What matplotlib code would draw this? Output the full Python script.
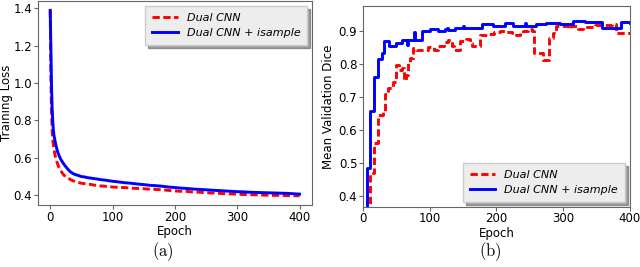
import numpy as np
import matplotlib
matplotlib.use("Agg")
import matplotlib.pyplot as plt

plt.rcParams['mathtext.fontset'] = 'cm'

# ---- (a) training loss ----
loss_epochs = [0, 1, 2, 3, 4, 5, 6, 8, 10, 12, 15, 18, 20, 22, 25, 28, 30, 33, 36, 40,
               45, 50, 55, 60, 65, 70, 75, 80, 85, 90, 95, 100, 110, 120, 130, 140,
               150, 160, 170, 180, 190, 200, 210, 220, 230, 240, 250, 260, 270, 280,
               290, 300, 310, 320, 330, 340, 350, 360, 370, 380, 390, 400]
loss_dual = [1.39, 1.05, 0.86, 0.76, 0.70, 0.67, 0.645, 0.61, 0.585, 0.565, 0.54, 0.525,
             0.515, 0.506, 0.499, 0.492, 0.488, 0.482, 0.477, 0.472,
             0.468, 0.463, 0.461, 0.458, 0.457, 0.453, 0.452, 0.449, 0.448, 0.446, 0.445,
             0.443, 0.441, 0.440, 0.437, 0.435, 0.434, 0.431, 0.430, 0.428, 0.425,
             0.422, 0.420, 0.419, 0.416, 0.415, 0.412, 0.411, 0.409, 0.407, 0.406,
             0.405, 0.403, 0.402, 0.401, 0.400, 0.399, 0.398, 0.399, 0.397, 0.396, 0.396]
loss_isample = [1.39, 1.20, 1.00, 0.87, 0.80, 0.75, 0.72, 0.685, 0.655, 0.63, 0.605, 0.585,
                0.575, 0.565, 0.552, 0.54, 0.532, 0.523, 0.516, 0.510,
                0.505, 0.499, 0.497, 0.493, 0.491, 0.488, 0.486, 0.483, 0.481, 0.479, 0.476,
                0.474, 0.470, 0.466, 0.463, 0.459, 0.456, 0.452, 0.450, 0.447, 0.443,
                0.440, 0.437, 0.435, 0.432, 0.430, 0.428, 0.426, 0.424, 0.422, 0.420,
                0.418, 0.417, 0.415, 0.414, 0.413, 0.412, 0.411, 0.410, 0.409, 0.407, 0.405]

# ---- (b) validation dice (change points, held until next) ----
dice_ep_isample = [0, 5.5, 10.5, 16, 22, 29, 32, 39, 49, 58, 66, 67, 76, 78, 89, 101, 113,
                   123, 126, 128, 138, 150, 152, 178, 195, 213, 225, 243, 245, 260, 275,
                   295, 315, 333, 358, 387, 400]
dice_isample = [0.30, 0.484, 0.658, 0.76, 0.815, 0.834, 0.872, 0.856, 0.866, 0.874, 0.859,
                0.874, 0.897, 0.875, 0.90, 0.907, 0.902, 0.907, 0.911, 0.905, 0.91, 0.916,
                0.912, 0.922, 0.917, 0.925, 0.917, 0.925, 0.917, 0.922, 0.926, 0.923,
                0.933, 0.928, 0.91, 0.93, 0.925]
dice_ep_dual = [0, 11, 17, 23, 30, 33, 37, 45, 49, 54, 58, 62, 65, 67, 70, 75, 80, 97, 107,
                113, 122, 127, 133, 136, 146, 154, 160, 163, 176, 189, 196, 205, 215, 223,
                230, 235, 240, 247, 253, 257, 270, 279, 285, 289, 307, 312, 322, 330, 348,
                374, 379, 400]
dice_dual = [0.30, 0.47, 0.56, 0.645, 0.655, 0.71, 0.727, 0.745, 0.798, 0.783, 0.788,
             0.752, 0.767, 0.808, 0.818, 0.851, 0.844, 0.854, 0.845, 0.855, 0.869, 0.874,
             0.855, 0.844, 0.87, 0.877, 0.865, 0.857, 0.89, 0.893, 0.897, 0.90, 0.897,
             0.894, 0.889, 0.895, 0.903, 0.907, 0.90, 0.834, 0.813, 0.88, 0.895, 0.917,
             0.91, 0.917, 0.908, 0.915, 0.92, 0.922, 0.895, 0.895]

labels = ['Dual CNN', 'Dual CNN + isample']

fig = plt.figure(figsize=(6.4, 2.67), dpi=100)
ax1 = fig.add_axes([0.059, 0.232, 0.4285, 0.764])
ax2 = fig.add_axes([0.567, 0.225, 0.417, 0.753])

lw = 2.1
fs = 8.5
dash = (2.5, 1.2)
ax1.plot(loss_epochs, loss_dual, '--', color='red', lw=lw, dashes=dash, label=labels[0])
ax1.plot(loss_epochs, loss_isample, '-', color='blue', lw=lw, label=labels[1])
ax1.set_ylabel('Training Loss', fontsize=fs, va='center')
ax1.yaxis.set_label_coords(-0.113, 0.5)
ax1.set_xlabel('Epoch', fontsize=fs, labelpad=1)
ax1.set_xticks([0, 100, 200, 300, 400])
ax1.set_yticks([0.4, 0.6, 0.8, 1.0, 1.2, 1.4])

ax2.plot(dice_ep_dual, dice_dual, '--', color='red', lw=lw, dashes=dash,
         drawstyle='steps-post', label=labels[0])
ax2.plot(dice_ep_isample, dice_isample, '-', color='blue', lw=lw,
         drawstyle='steps-post', label=labels[1])
ax2.set_xlim(0, 400)
ax2.set_ylim(0.366, 0.978)
ax2.set_ylabel('Mean Validation Dice', fontsize=fs, labelpad=3)
ax2.set_xlabel('Epoch', fontsize=fs, labelpad=1)
ax2.set_xticks([0, 100, 200, 300, 400])
ax2.set_yticks([0.4, 0.5, 0.6, 0.7, 0.8, 0.9])

for ax, loc in [(ax1, 'upper right'), (ax2, 'lower right')]:
    ax.tick_params(labelsize=fs, length=3, color='0.4', pad=1)
    for s in ax.spines.values():
        s.set_color('0.4')
    leg = ax.legend(loc=loc, prop={'style': 'italic', 'size': 8}, shadow=True,
                    fancybox=False, handlelength=2.3, borderpad=0.6, labelspacing=0.5,
                    borderaxespad=0.45)
    leg.get_frame().set_facecolor('0.93')
    leg.get_frame().set_edgecolor('0.8')

fig.text(0.255, 0.056, r'$\mathrm{(a)}$', fontsize=12, ha='center', va='center')
fig.text(0.766, 0.056, r'$\mathrm{(b)}$', fontsize=12, ha='center', va='center')

fig.savefig('out.png', dpi=100)
